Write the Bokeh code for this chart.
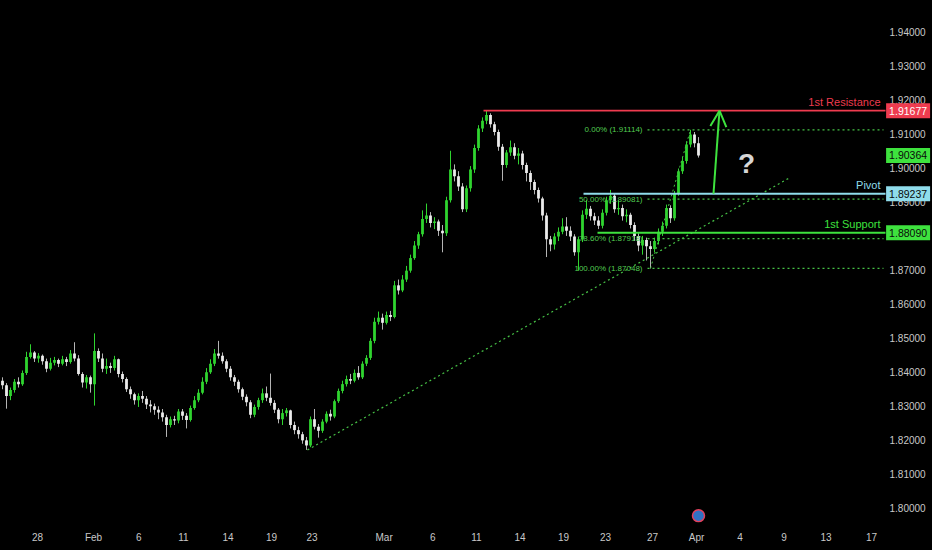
from bokeh.plotting import figure
from bokeh.models import (Range1d, FixedTicker, Arrow, OpenHead, ColumnDataSource,
                          GlobalInlineStyleSheet)
from bokeh.core.properties import value
from bokeh.embed import file_html
from bokeh.resources import INLINE

# ---------------- data ----------------
first_open = 1.8375
closes = [
    1.8362, 1.8330, 1.8348, 1.8372, 1.8365, 1.8398, 1.8445, 1.8458, 1.8440, 1.8448,
    1.8432, 1.8410, 1.8428, 1.8436, 1.8425, 1.8438, 1.8430, 1.8455, 1.8440, 1.8395,
    1.8370, 1.8385, 1.8365, 1.8462, 1.8440, 1.8410, 1.8418, 1.8412, 1.8438, 1.8395,
    1.8380, 1.8350, 1.8335, 1.8318, 1.8330, 1.8322, 1.8305, 1.8300, 1.8290, 1.8282,
    1.8268, 1.8245, 1.8262, 1.8258, 1.8285, 1.8272, 1.8260, 1.8295, 1.8318, 1.8340,
    1.8372, 1.8400, 1.8425, 1.8455, 1.8448, 1.8432, 1.8410, 1.8385, 1.8372, 1.8350,
    1.8328, 1.8312, 1.8275, 1.8298, 1.8318, 1.8338, 1.8325, 1.8310, 1.8290, 1.8262,
    1.8280, 1.8288, 1.8245, 1.8230, 1.8218, 1.8200, 1.8185, 1.8262, 1.8240, 1.8228,
    1.8255, 1.8278, 1.8270, 1.8315, 1.8345, 1.8365, 1.8380, 1.8375, 1.8398, 1.8385,
    1.8425, 1.8442, 1.8492, 1.8548, 1.8560, 1.8545, 1.8568, 1.8562, 1.8655, 1.8640,
    1.8672, 1.8698, 1.8735, 1.8772, 1.8805, 1.8850, 1.8860, 1.8838, 1.8842, 1.8815,
    1.8808, 1.8905, 1.8995, 1.8975, 1.8945, 1.8878, 1.8940, 1.8995, 1.9058, 1.9115,
    1.9138, 1.9155, 1.9128, 1.9105, 1.9062, 1.9008, 1.9045, 1.9060, 1.9035, 1.9042,
    1.9008, 1.8985, 1.8958, 1.8935, 1.8910, 1.8860, 1.8790, 1.8775, 1.8798, 1.8812,
    1.8828, 1.8815, 1.8798, 1.8752, 1.8790, 1.8862, 1.8880, 1.8858, 1.8845, 1.8830,
    1.8868, 1.8905, 1.8918, 1.8878, 1.8882, 1.8858, 1.8862, 1.8832, 1.8800, 1.8772,
    1.8788, 1.8770, 1.8762, 1.8785, 1.8812, 1.8830, 1.8882, 1.8852, 1.8925, 1.8990,
    1.9020, 1.9068, 1.9098, 1.9072, 1.90364,
]
highs = [
    1.8385, 1.8368, 1.8355, 1.8380, 1.8385, 1.8405, 1.8460, 1.8482, 1.8462, 1.8456,
    1.8452, 1.8440, 1.8442, 1.8445, 1.8440, 1.8448, 1.8445, 1.8465, 1.8488, 1.8450,
    1.8400, 1.8392, 1.8390, 1.8514, 1.8470, 1.8455, 1.8440, 1.8428, 1.8448, 1.8440,
    1.8402, 1.8385, 1.8358, 1.8340, 1.8338, 1.8345, 1.8330, 1.8318, 1.8308, 1.8300,
    1.8292, 1.8275, 1.8270, 1.8272, 1.8292, 1.8292, 1.8280, 1.8302, 1.8330, 1.8350,
    1.8385, 1.8412, 1.8438, 1.8468, 1.8492, 1.8458, 1.8438, 1.8418, 1.8392, 1.8378,
    1.8355, 1.8335, 1.8318, 1.8305, 1.8325, 1.8352, 1.8358, 1.8396, 1.8318, 1.8295,
    1.8292, 1.8295, 1.8290, 1.8255, 1.8240, 1.8225, 1.8210, 1.8270, 1.8292, 1.8248,
    1.8262, 1.8285, 1.8290, 1.8320, 1.8352, 1.8375, 1.8390, 1.8395, 1.8408, 1.8418,
    1.8432, 1.8450, 1.8500, 1.8560, 1.8578, 1.8572, 1.8578, 1.8580, 1.8668, 1.8672,
    1.8685, 1.8712, 1.8745, 1.8785, 1.8812, 1.8875, 1.8895, 1.8870, 1.8855, 1.8848,
    1.8832, 1.8915, 1.9050, 1.9010, 1.8990, 1.8955, 1.8948, 1.9005, 1.9068, 1.9125,
    1.9148, 1.9168, 1.9160, 1.9135, 1.9112, 1.9070, 1.9052, 1.9080, 1.9072, 1.9058,
    1.9050, 1.9015, 1.8992, 1.8965, 1.8942, 1.8915, 1.8868, 1.8800, 1.8808, 1.8825,
    1.8852, 1.8855, 1.8828, 1.8805, 1.8798, 1.8875, 1.8905, 1.8888, 1.8868, 1.8858,
    1.8878, 1.8915, 1.8935, 1.8925, 1.8905, 1.8892, 1.8878, 1.8868, 1.8840, 1.8808,
    1.8800, 1.8795, 1.8785, 1.8795, 1.8822, 1.8842, 1.8892, 1.8890, 1.8932, 1.8998,
    1.9032, 1.9078, 1.91114, 1.9105, 1.9090,
]
lows = [
    1.8350, 1.8293, 1.8318, 1.8340, 1.8355, 1.8360, 1.8392, 1.8440, 1.8430, 1.8428,
    1.8422, 1.8400, 1.8405, 1.8420, 1.8415, 1.8420, 1.8418, 1.8425, 1.8432, 1.8390,
    1.8355, 1.8352, 1.8340, 1.8302, 1.8430, 1.8400, 1.8395, 1.8398, 1.8405, 1.8385,
    1.8370, 1.8342, 1.8322, 1.8305, 1.8298, 1.8310, 1.8292, 1.8282, 1.8275, 1.8262,
    1.8255, 1.8210, 1.8238, 1.8245, 1.8250, 1.8260, 1.8235, 1.8255, 1.8290, 1.8312,
    1.8335, 1.8365, 1.8395, 1.8418, 1.8440, 1.8425, 1.8400, 1.8375, 1.8360, 1.8340,
    1.8318, 1.8300, 1.8265, 1.8268, 1.8290, 1.8310, 1.8315, 1.8302, 1.8280, 1.8250,
    1.8245, 1.8270, 1.8235, 1.8218, 1.8205, 1.8190, 1.8172, 1.8180, 1.8232, 1.8208,
    1.8222, 1.8250, 1.8258, 1.8265, 1.8310, 1.8338, 1.8358, 1.8365, 1.8370, 1.8378,
    1.8380, 1.8418, 1.8436, 1.8485, 1.8540, 1.8525, 1.8540, 1.8550, 1.8558, 1.8628,
    1.8635, 1.8665, 1.8692, 1.8730, 1.8762, 1.8798, 1.8838, 1.8825, 1.8820, 1.8800,
    1.8752, 1.8800, 1.8898, 1.8960, 1.8932, 1.8870, 1.8870, 1.8930, 1.8985, 1.9050,
    1.9105, 1.9128, 1.9118, 1.9095, 1.9050, 1.8962, 1.9000, 1.9035, 1.9025, 1.9010,
    1.8995, 1.8960, 1.8935, 1.8922, 1.8898, 1.8845, 1.8738, 1.8755, 1.8760, 1.8785,
    1.8805, 1.8800, 1.8785, 1.8742, 1.8698, 1.8782, 1.8850, 1.8845, 1.8832, 1.8820,
    1.8822, 1.8860, 1.8895, 1.8868, 1.8862, 1.8845, 1.8840, 1.8822, 1.8785, 1.8755,
    1.8745, 1.8728, 1.87048, 1.8752, 1.8775, 1.8800, 1.8822, 1.8838, 1.8845, 1.8918,
    1.8982, 1.9012, 1.9060, 1.9060, 1.9030,
]
opens = [first_open] + closes[:-1]

price_ticks = [1.80, 1.81, 1.82, 1.83, 1.84, 1.85, 1.86, 1.87,
               1.88, 1.89, 1.90, 1.91, 1.92, 1.93, 1.94]
date_tick_pos = [8.75, 22.75, 34.1, 45.25, 56.4, 67.25, 77.4, 95.4, 107.6, 118.5,
                 129.4, 140.25, 150.75, 162.5, 173.5, 184.4, 195.4, 205.9, 217.25]
date_labels = ["28", "Feb", "6", "11", "14", "19", "23", "Mar", "6", "11",
               "14", "19", "23", "27", "Apr", "4", "9", "13", "17"]

resistance = 1.91677
pivot = 1.89237
support = 1.88090
level_names = ["1st Resistance", "Pivot", "1st Support"]
level_values = [resistance, pivot, support]
level_start = [120.25, 145.25, 148.75]       # candle index where each drawn line begins

fib_labels = ["0.00% (1.91114)", "50.00% (1.89081)", "78.60% (1.87918)", "100.00% (1.87048)"]
fib_levels = [1.91114, 1.89081, 1.87918, 1.87048]
fib_anchor_x = [162, 172]
fib_anchor_y = [1.87048, 1.91114]

trend_x = [76.25, 197]
trend_y = [1.8172, 1.8972]

arrow_x = [177.75, 179.25]
event_x, event_y = 174, 1.7979
question_x, question_y = 186, 1.9013

box_texts = ["1.91677", "1.90364", "1.89237", "1.88090"]

# ---------------- styles ----------------
BG = "#000000"
BULL = "#2fd42f"
BEAR = "#ececec"
BEAR_WICK = "#b4b4b4"
RED = "#ee3b4f"
CYAN = "#8fdceb"
SUP = "#3ee23e"
FIBG = "#52cc52"
DOT = "#46c246"
TICK = "#c8c8c8"
FONT = "Liberation Sans"

# chart pane ends at x_end; price scale column lies to its right (same frame)
x_end = 220.75
scale_x = 221.75        # left edge of the price-scale labels
box_x = 226.4           # centre of the price boxes
p = figure(width=932, height=550, output_backend="svg", toolbar_location=None,
           x_range=Range1d(-0.5, 232.5), y_range=Range1d(1.79589, 1.94910),
           y_axis_location=None, min_border_left=0, min_border_top=0,
           min_border_right=0, min_border_bottom=28)
p.stylesheets = [GlobalInlineStyleSheet(css="html, body {margin:0 !important; padding:0; background:#000; overflow:hidden;}")]
p.background_fill_color = BG
p.border_fill_color = BG
p.outline_line_color = None
p.grid.visible = False

ax = p.xaxis[0]
ax.axis_line_color = None
ax.major_tick_line_color = None
ax.minor_tick_line_color = None
ax.major_tick_out = 0
ax.major_tick_in = 0
ax.major_label_text_font = FONT
ax.major_label_text_font_size = "10px"
ax.major_label_text_color = TICK
ax.ticker = FixedTicker(ticks=date_tick_pos)
ax.major_label_overrides = {pos: lab for pos, lab in zip(date_tick_pos, date_labels)}
ax.major_label_standoff = 9

# ---------------- price scale labels ----------------
p.text(x=[scale_x] * len(price_ticks), y=price_ticks,
       text=["%.5f" % t for t in price_ticks], text_color=TICK,
       text_font=value(FONT), text_font_size="10px", text_align="left",
       text_baseline="middle")

# ---------------- candles ----------------
idx = list(range(len(closes)))
up = [c >= o for o, c in zip(opens, closes)]

def subset(flag):
    sel = [i for i in idx if up[i] == flag]
    return ColumnDataSource(dict(
        x=sel,
        h=[highs[i] for i in sel], l=[lows[i] for i in sel],
        top=[max(opens[i], closes[i]) for i in sel],
        bot=[min(opens[i], closes[i]) for i in sel]))

for flag, body, wick in ((True, BULL, BULL), (False, BEAR, BEAR_WICK)):
    src = subset(flag)
    p.segment(x0="x", y0="h", x1="x", y1="l", source=src, line_color=wick, line_width=1)
    p.vbar(x="x", width=0.7, top="top", bottom="bot", source=src,
           fill_color=body, line_color=None)

# ---------------- drawings ----------------
p.line(trend_x, trend_y, line_color=DOT, line_width=1.2, line_dash="2 3")
p.line(fib_anchor_x, fib_anchor_y, line_color=DOT, line_width=1, line_dash="2 3")
p.segment(x0=[161.25] * 4, y0=fib_levels, x1=[x_end - 0.5] * 4, y1=fib_levels,
          line_color=DOT, line_width=1.2, line_dash="2 3")
p.text(x=[160] * 4, y=fib_levels, text=fib_labels, text_color=FIBG,
       text_font=value(FONT), text_font_size="8px", text_align="right",
       text_baseline="middle")

level_colors = [RED, CYAN, SUP]
p.segment(x0=level_start, y0=level_values, x1=[x_end] * 3, y1=level_values,
          line_color=level_colors, line_width=[1.6, 2, 2])
p.text(x=[x_end - 1.25] * 3, y=level_values, text=level_names, text_color=level_colors,
       text_font=value(FONT), text_font_size="11px", text_align="right",
       text_baseline="middle", y_offset=-9)

p.add_layout(Arrow(end=OpenHead(size=16, line_color=SUP, line_width=2),
                   x_start=arrow_x[0], y_start=pivot, x_end=arrow_x[1], y_end=resistance,
                   line_color=SUP, line_width=2))

p.text(x=[question_x], y=[question_y], text=["?"], text_color="#d6d6d6",
       text_font=value(FONT), text_font_style="bold", text_font_size="28px",
       text_align="center", text_baseline="middle")

p.scatter(x=[event_x], y=[event_y], size=12, fill_color="#2f72c4",
          line_color="#e2405c", line_width=1.5)

# ---------------- price boxes on the scale ----------------
box_values = [resistance, closes[-1], pivot, support]
box_fill = [RED, SUP, CYAN, SUP]
box_text_color = ["#ffffff", "#0a0a0a", "#0a0a0a", "#0a0a0a"]
p.rect(x=[box_x] * 4, y=box_values, width=44, height=15, width_units="screen",
       height_units="screen", fill_color=box_fill, line_color=None)
p.text(x=[box_x] * 4, y=box_values, text=box_texts, text_color=box_text_color,
       text_font=value(FONT), text_font_size="10.5px", text_align="center",
       text_baseline="middle")

open("out.html", "w").write(file_html(p, INLINE))
